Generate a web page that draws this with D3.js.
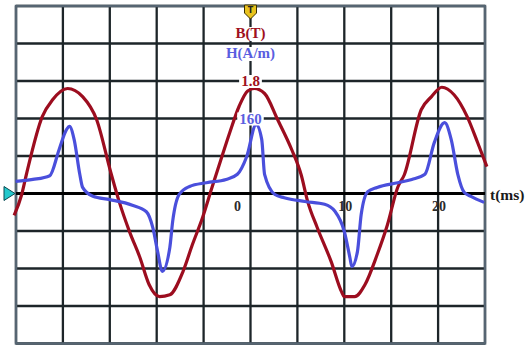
<!DOCTYPE html>
<html>
<head>
<meta charset="utf-8">
<title>B(T) and H(A/m) vs t(ms)</title>
<script src="https://cdn.jsdelivr.net/npm/d3@7/dist/d3.min.js"></script>
<style>
  body { margin: 0; background: #fff; }
  svg { display: block; }
  .lbl { font-family: "Liberation Serif", "DejaVu Serif", serif; font-weight: bold; }
</style>
</head>
<body>
<script>
// time in ms, B in tesla
var tB = [-25.2, -24.4, -23.9, -22.2, -21.1, -19.5, -17.9, -16.4, -14.9, -14.0, -12.9, -11.8, -10.8, -9.7, -8.6, -7.2, -6.2, -5.1, -4.1, -3.2, -2.2, -1.2, -0.3, 0.4, 1.5, 2.9, 4.4, 5.4, 6.1, 7.1, 8.6, 9.7, 10.0, 11.1, 12.2, 13.5, 14.6, 15.7, 16.4, 18.2, 19.3, 20.4, 21.7, 23.1, 24.2, 25.2];
var bVals = [-0.35, -0.02, 0.30, 1.23, 1.50, 1.68, 1.55, 1.18, 0.34, -0.13, -0.61, -1.02, -1.46, -1.65, -1.62, -1.25, -0.82, -0.38, 0.10, 0.52, 0.98, 1.40, 1.64, 1.68, 1.60, 1.18, 0.70, 0.30, -0.13, -0.54, -1.09, -1.57, -1.65, -1.65, -1.46, -0.98, -0.50, 0.10, 0.30, 1.34, 1.55, 1.70, 1.58, 1.23, 0.82, 0.43];

// time in ms, H in A/m
var tH = [-25.05, -23.2, -21.4, -20.4, -19.6, -19.3, -18.8, -18.2, -17.9, -16.8, -15.0, -12.6, -11.1, -10.4, -9.9, -9.4, -8.6, -8.3, -7.6, -6.5, -4.7, -2.6, -1.4, -0.4, 0.6, 1.2, 1.5, 2.6, 3.6, 5.8, 7.9, 9.0, 10.0, 10.6, 10.8, 11.4, 11.8, 12.5, 13.5, 15.7, 17.2, 18.6, 19.6, 20.7, 21.4, 22.1, 22.8, 23.5, 24.9];
var hVals = [26, 30, 38, 94, 137, 143, 115, 41, 13, -6, -13, -25, -39, -74, -124, -166, -115, -60, -2, 15, 23, 30, 41, 79, 147, 115, 41, -2, -9, -17, -23, -38, -81, -137, -156, -124, -45, 4, 13, 23, 30, 41, 109, 151, 115, 41, 2, -6, -19];

var tTickLabels = [0, 10, 20];

var W = 530, H = 347;
var pLeft = 16, pRight = 485, pTop = 6, pBottom = 343.5;

var x = d3.scaleLinear().domain([-25, 25]).range([pLeft, pRight]);
var yB = d3.scaleLinear().domain([-2.4, 3.0]).range([pBottom, pTop]);
var yH = d3.scaleLinear().domain([-320, 400]).range([pBottom, pTop]);

var svg = d3.select("body").append("svg")
    .attr("width", W)
    .attr("height", H);

// grid
var vLines = d3.range(-25, 25.01, 5);
var hLines = d3.range(0, 10).map(function(i) { return -2.4 + i * 0.6; });

svg.append("g").selectAll("line")
   .data(vLines).enter().append("line")
   .attr("x1", function(d) { return x(d); })
   .attr("x2", function(d) { return x(d); })
   .attr("y1", pTop).attr("y2", pBottom)
   .attr("stroke", "#1d2529")
   .attr("stroke-width", 2.3);

svg.append("g").selectAll("line")
   .data(hLines).enter().append("line")
   .attr("x1", pLeft).attr("x2", pRight)
   .attr("y1", function(d) { return yB(d); })
   .attr("y2", function(d) { return yB(d); })
   .attr("stroke", "#1d2529")
   .attr("stroke-width", 2.3);

// border
svg.append("rect")
   .attr("x", pLeft).attr("y", pTop)
   .attr("width", pRight - pLeft).attr("height", pBottom - pTop)
   .attr("fill", "none")
   .attr("stroke", "#566572")
   .attr("stroke-width", 2.5);

// time axis
svg.append("line")
   .attr("x1", pLeft).attr("x2", pRight)
   .attr("y1", yB(0)).attr("y2", yB(0))
   .attr("stroke", "#000")
   .attr("stroke-width", 3.2);

// tick labels on the time axis
svg.append("g").selectAll("text")
   .data(tTickLabels).enter().append("text")
   .attr("class", "lbl")
   .attr("x", function(d) { return d === 0 ? x(d) - 13 : x(d) + 1; })
   .attr("y", yB(0) + 17)
   .attr("text-anchor", "middle")
   .attr("font-size", 14)
   .attr("fill", "#2b2b2b")
   .text(function(d) { return d; });

svg.append("text")
   .attr("class", "lbl")
   .attr("x", 490).attr("y", yB(0) + 6)
   .attr("font-size", 15.5)
   .attr("fill", "#1a1a1a")
   .text("t(ms)");

// curves
var lineB = d3.line()
   .x(function(d) { return x(d[0]); })
   .y(function(d) { return yB(d[1]); })
   .curve(d3.curveMonotoneX);
var lineH = d3.line()
   .x(function(d) { return x(d[0]); })
   .y(function(d) { return yH(d[1]); })
   .curve(d3.curveMonotoneX);

svg.append("path")
   .datum(d3.zip(tB, bVals))
   .attr("d", lineB)
   .attr("fill", "none")
   .attr("stroke", "#9c0d1f")
   .attr("stroke-width", 3.2);

svg.append("path")
   .datum(d3.zip(tH, hVals))
   .attr("d", lineH)
   .attr("fill", "none")
   .attr("stroke", "#4a4fdc")
   .attr("stroke-width", 3.2);

// axis labels at the centre line
var cx = x(0);
function boxedLabel(txt, yy, color) {
  var t = svg.append("text")
     .attr("class", "lbl")
     .attr("x", cx).attr("y", yy)
     .attr("text-anchor", "middle")
     .attr("font-size", 15)
     .attr("fill", color)
     .text(txt);
  var bb = t.node().getBBox();
  svg.insert("rect", function() { return t.node(); })
     .attr("x", bb.x - 2).attr("y", bb.y + 2)
     .attr("width", bb.width + 4).attr("height", bb.height - 3)
     .attr("fill", "#fff");
}
boxedLabel("B(T)", 38, "#a01020");
boxedLabel("H(A/m)", 58, "#5a5ee0");
boxedLabel("1.8", yB(1.8) + 5, "#a01020");
boxedLabel("160", yH(160) + 5, "#5a5ee0");

// trigger marker (top)
svg.append("path")
   .attr("d", "M" + (cx - 6) + ",5 L" + (cx + 6) + ",5 L" + (cx + 6) + ",13 L" + cx + ",19 L" + (cx - 6) + ",13 Z")
   .attr("fill", "#e8c21c")
   .attr("stroke", "#3a3000")
   .attr("stroke-width", 1);
svg.append("text")
   .attr("x", cx).attr("y", 13)
   .attr("text-anchor", "middle")
   .attr("font-family", "DejaVu Sans, sans-serif")
   .attr("font-weight", "bold")
   .attr("font-size", 8)
   .attr("fill", "#222")
   .text("T");

// ground marker (left)
svg.append("path")
   .attr("d", "M4," + (yB(0) - 7) + " L15," + yB(0) + " L4," + (yB(0) + 7) + " Z")
   .attr("fill", "#22c8cc")
   .attr("stroke", "#0a4850")
   .attr("stroke-width", 1);
</script>
</body>
</html>
